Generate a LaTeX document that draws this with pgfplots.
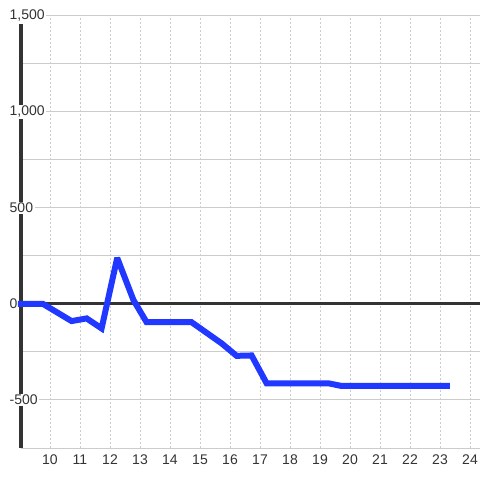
\documentclass[border=0pt]{standalone}
\usepackage{fontspec}
\setmainfont{Liberation Sans}
\usepackage{pgfplots}
\pgfplotsset{compat=1.18}
\definecolor{txt}{RGB}{51,51,51}
\definecolor{grd}{RGB}{204,204,204}
\definecolor{blu}{RGB}{32,56,255}
\pgfplotsset{
  layers/mylayers/.define layer set={axis background,axis grid,axis ticks,axis lines,axis tick labels,pre main,main,axis descriptions,axis foreground}{
    grid style={/pgfplots/on layer=axis grid},
    tick style={/pgfplots/on layer=axis ticks},
    axis line style={/pgfplots/on layer=axis lines},
    label style={/pgfplots/on layer=axis descriptions},
    legend style={/pgfplots/on layer=axis descriptions},
    title style={/pgfplots/on layer=axis descriptions},
    colorbar style={/pgfplots/on layer=axis descriptions},
    ticklabel style={/pgfplots/on layer=axis tick labels},
    axis background@ style={/pgfplots/on layer=axis background},
    3d box foreground style={/pgfplots/on layer=axis foreground},
  },
}
\begin{document}
\fontsize{14bp}{17bp}\selectfont
\begin{tikzpicture}
\begin{axis}[
  scale only axis, width=459bp, height=432bp,
  xmin=9.0333, xmax=24.3333, ymin=-750, ymax=1500,
  set layers=mylayers, clip=false,
  axis x line*=bottom, axis y line*=left,
  x axis line style={draw=grd, line width=1bp},
  y axis line style={draw=txt, line width=3bp, shorten >=8bp},
  xtick={10,11,...,24}, ytick={-500,0,500,1000,1500},
  minor ytick={-750,-250,250,750,1250},
  major tick length=0pt, minor tick length=0pt,
  ymajorgrids, yminorgrids, xmajorgrids,
  major y grid style={draw=grd, line width=1bp},
  minor y grid style={draw=grd, line width=1bp},
  major x grid style={draw=grd, line width=1bp, dash pattern=on 2bp off 2bp},
  /pgf/number format/assume math mode=true,
  /pgf/number format/1000 sep={,},
  ticklabel style={font=\fontsize{14bp}{16bp}\selectfont, text=txt},
  yticklabel style={anchor=west, fill=white, inner sep=1.5bp, xshift=-13bp},
  xticklabel style={yshift=-2bp},
]
\coordinate (o) at (rel axis cs:0,0);
\addplot[txt, line width=3bp] coordinates {(9.0333,0) (24.3333,0)};
\addplot[blu, line width=6bp, line join=miter, miter limit=2] coordinates {
  (8.93,0) (9.77,0) (10.72,-89) (11.22,-75) (11.72,-127) (12.24,240)
  (12.78,21) (13.22,-95) (14.72,-95) (15.72,-205) (16.22,-270) (16.72,-268)
  (17.22,-413) (19.28,-413) (19.72,-427) (23.33,-427)
};
\end{axis}
\pgfresetboundingbox
\useasboundingbox ([xshift=-21bp,yshift=-32bp]o) rectangle ++(480bp,480bp);
\end{tikzpicture}
\end{document}
